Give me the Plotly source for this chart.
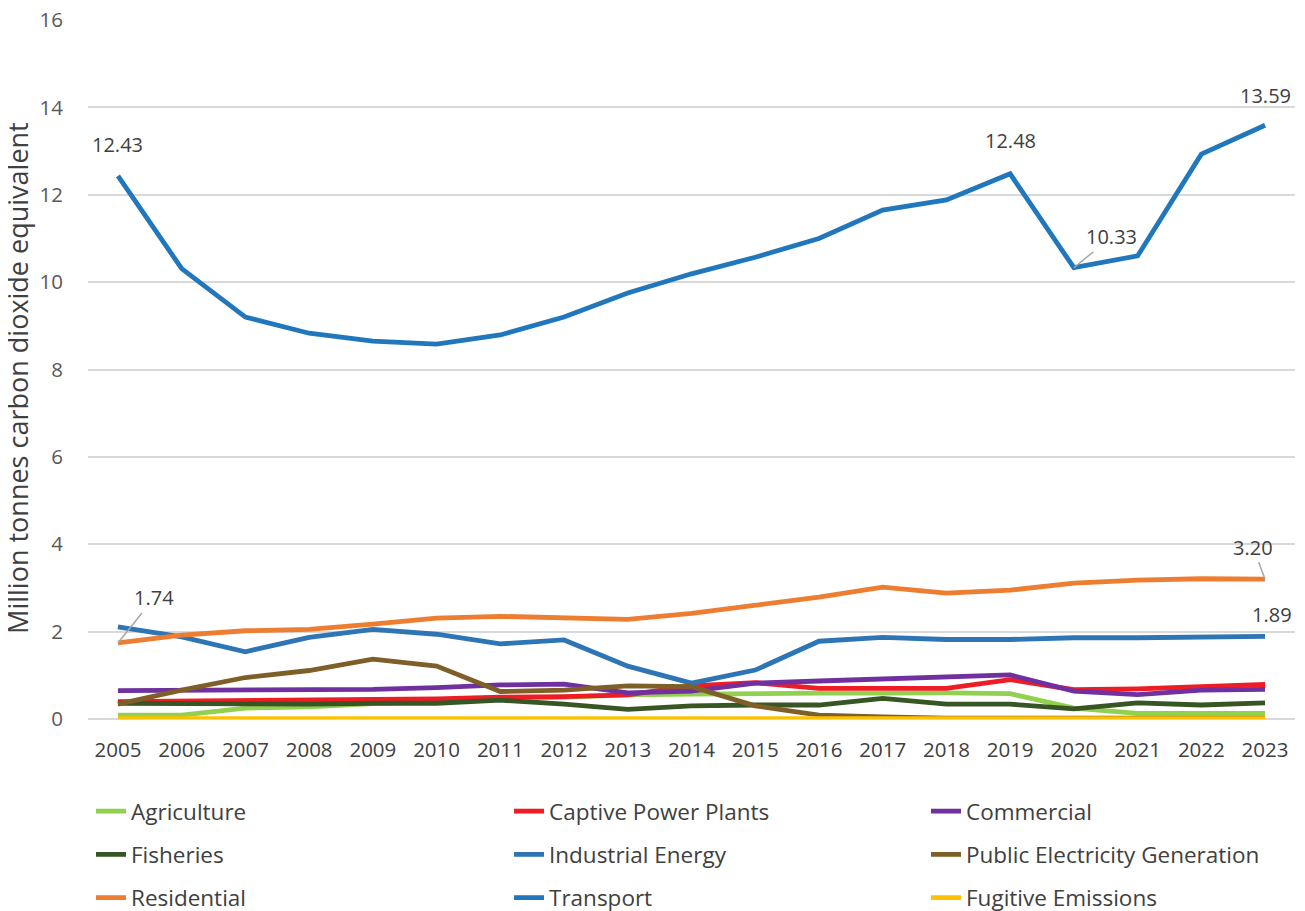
import plotly.graph_objects as go

years = list(range(2005, 2024))

agriculture = [0.09, 0.09, 0.25, 0.28, 0.35, 0.40, 0.45, 0.50, 0.55, 0.57, 0.59, 0.59, 0.59, 0.60, 0.58, 0.25, 0.13, 0.13, 0.13]
captive_power = [0.40, 0.41, 0.42, 0.43, 0.45, 0.46, 0.50, 0.51, 0.55, 0.76, 0.83, 0.70, 0.70, 0.70, 0.90, 0.67, 0.69, 0.75, 0.79]
commercial = [0.65, 0.66, 0.66, 0.66, 0.68, 0.72, 0.78, 0.80, 0.60, 0.64, 0.82, 0.87, 0.92, 0.97, 1.01, 0.64, 0.56, 0.66, 0.68]
fisheries = [0.36, 0.35, 0.34, 0.34, 0.36, 0.36, 0.43, 0.34, 0.22, 0.30, 0.32, 0.32, 0.47, 0.34, 0.34, 0.23, 0.37, 0.32, 0.37]
industrial_energy = [2.11, 1.88, 1.54, 1.87, 2.05, 1.94, 1.72, 1.81, 1.21, 0.82, 1.12, 1.78, 1.87, 1.82, 1.82, 1.86, 1.86, 1.87, 1.89]
public_electricity = [0.34, 0.66, 0.95, 1.11, 1.37, 1.21, 0.63, 0.66, 0.76, 0.74, 0.30, 0.09, 0.05, 0.02, 0.02, 0.02, 0.02, 0.02, 0.02]
residential = [1.74, 1.92, 2.02, 2.05, 2.17, 2.31, 2.35, 2.31, 2.28, 2.42, 2.60, 2.79, 3.02, 2.88, 2.95, 3.11, 3.18, 3.21, 3.20]
transport = [12.43, 10.31, 9.20, 8.83, 8.65, 8.58, 8.79, 9.20, 9.75, 10.19, 10.57, 11.00, 11.65, 11.88, 12.48, 10.33, 10.60, 12.93, 13.59]
fugitive = [0.01] * 19

y_title = "Million tonnes carbon dioxide equivalent"

series = [
    ("Agriculture", agriculture, "#92D050"),
    ("Captive Power Plants", captive_power, "#EE1C25"),
    ("Commercial", commercial, "#7030A0"),
    ("Fisheries", fisheries, "#375623"),
    ("Industrial Energy", industrial_energy, "#2E75B6"),
    ("Public Electricity Generation", public_electricity, "#7F5F28"),
    ("Residential", residential, "#ED7D31"),
    ("Transport", transport, "#2077BC"),
    ("Fugitive Emissions", fugitive, "#FFC000"),
]

# The page has an 8px body margin, so the figure is drawn 8px smaller
W, H = 1297, 903
ML, MR, MT, MB = 80, 10, 12, 192
FONT = "Open Sans"
legend_ids = ["legend", "legend2", "legend3"]  # one legend per column
fig = go.Figure()
for i, (name, vals, color) in enumerate(series):
    fig.add_trace(go.Scatter(
        x=years, y=vals, name=name, mode="lines",
        line=dict(color=color, width=4.8),
        legend=legend_ids[i % 3], legendgroup=name,
    ))

txt = dict(family=FONT, size=20, color="#404040")
ann = []
ann.append(dict(x=2005, y=transport[0], text="12.43", showarrow=False, yshift=31, font=txt))
ann.append(dict(x=2019, y=transport[14], text="12.48", showarrow=False, yshift=33, font=txt))
ann.append(dict(x=2023, y=transport[18], text="13.59", showarrow=False, yshift=30, font=txt))
ann.append(dict(x=2023, y=industrial_energy[18], text="1.89", showarrow=False, yshift=22, xshift=7, font=txt))
ann.append(dict(x=2020, y=transport[15], text="10.33", showarrow=True, arrowhead=0,
                arrowcolor="#A6A6A6", arrowwidth=1.5, ax=38, ay=-31, standoff=0, font=txt))
ann.append(dict(x=2005, y=residential[0], text="1.74", showarrow=True, arrowhead=0,
                arrowcolor="#A6A6A6", arrowwidth=1.5, ax=36, ay=-45, standoff=0, font=txt))
ann.append(dict(x=2023, y=residential[18], text="3.20", showarrow=True, arrowhead=0,
                arrowcolor="#A6A6A6", arrowwidth=1.5, ax=-12, ay=-32, standoff=0, font=txt))
# y-axis title (as a rotated annotation so it stays in the left margin)
ann.append(dict(xref="paper", yref="paper", x=(10 - ML) / (W - ML - MR), y=0.488,
                xanchor="center", yanchor="middle", textangle=-90, showarrow=False,
                text=y_title, font=dict(family=FONT, size=27, color="#404040")))

col_x = [83, 501, 918]
leg_common = dict(
    orientation="v", xref="container", yref="container",
    xanchor="left", yanchor="top", y=1 - 782 / H,
    tracegroupgap=11,
    font=dict(family=FONT, size=22.5, color="#404040"),
    bgcolor="rgba(0,0,0,0)",
)
legends = {}
for lid, xc in zip(legend_ids, col_x):
    legends[lid] = dict(leg_common, x=xc / W)

fig.update_layout(
    width=W, height=H,
    paper_bgcolor="white", plot_bgcolor="white",
    margin=dict(l=ML, r=MR, t=MT, b=MB, autoexpand=False),
    font=dict(family=FONT, size=20, color="#595959"),
    annotations=ann,
    showlegend=True,
    **legends,
    xaxis=dict(
        range=[2004.53, 2023.47], tickmode="linear", tick0=2005, dtick=1,
        showgrid=False, zeroline=False, showline=False,
        tickfont=dict(family=FONT, size=20.5, color="#404040"),
        ticks="", ticklabelstandoff=16,
    ),
    yaxis=dict(
        range=[0, 16], tickmode="linear", tick0=0, dtick=2,
        showgrid=True, gridcolor="#D9D9D9", gridwidth=1.5,
        zeroline=True, zerolinecolor="#D9D9D9", zerolinewidth=1.5,
        showline=False, ticks="", automargin=False,
        ticklabeloverflow="allow",
        tickfont=dict(family=FONT, size=20.5, color="#595959"),
        ticklabelstandoff=24,
    ),
)

fig.write_html("out.html")
